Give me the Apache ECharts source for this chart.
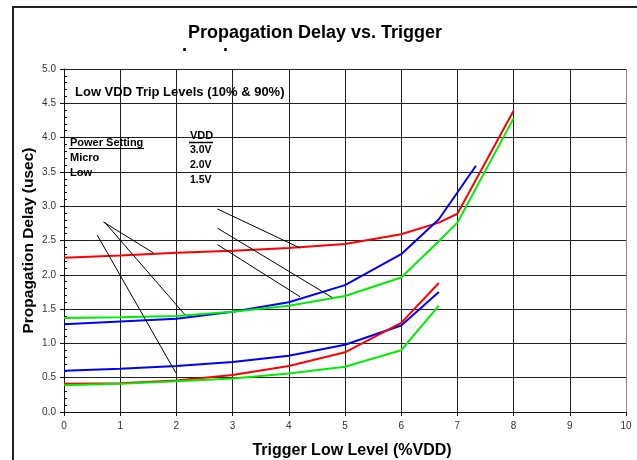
<!DOCTYPE html>
<html>
<head>
<meta charset="utf-8">
<script src="https://cdn.jsdelivr.net/npm/echarts@6/dist/echarts.min.js"></script>
<style>
html,body{margin:0;padding:0;background:#fff;}
#chart{width:637px;height:460px;}
</style>
</head>
<body>
<div id="chart"></div>
<script>
// ---- data ----
var xTicks = [0,1,2,3,4,5,6,7,8,9,10];
var yTicks = [0.0,0.5,1.0,1.5,2.0,2.5,3.0,3.5,4.0,4.5,5.0];

var xMicroRed   = [0,1,2,3,4,5,6,6.67,7,8];
var yMicroRed   = [2.25,2.28,2.32,2.35,2.39,2.45,2.59,2.76,2.89,4.39];
var xMicroBlue  = [0,1,2,3,4,5,6,6.67,7.33];
var yMicroBlue  = [1.28,1.32,1.36,1.46,1.60,1.85,2.30,2.81,3.59];
var xMicroGreen = [0,1,2,3,4,5,6,6.67,7,8];
var yMicroGreen = [1.37,1.38,1.40,1.46,1.55,1.69,1.96,2.49,2.76,4.28];

var xLow        = [0,1,2,3,4,5,6,6.67];
var yLowBlue    = [0.60,0.63,0.67,0.73,0.82,0.98,1.26,1.75];
var yLowRed     = [0.41,0.42,0.46,0.54,0.67,0.87,1.30,1.88];
var yLowGreen   = [0.39,0.41,0.45,0.49,0.56,0.66,0.90,1.55];

// annotation leader lines (data coordinates): [from, to]
var leaderMicro1 = [[0.70,2.77],[1.59,2.32]];
var leaderMicro2 = [[0.72,2.77],[2.15,1.42]];
var leaderLow    = [[0.59,2.58],[1.99,0.57]];
var leader30V    = [[2.73,2.96],[4.20,2.39]];
var leader20V    = [[2.73,2.68],[4.77,1.67]];
var leader15V    = [[2.73,2.44],[4.20,1.68]];

function pairs(xs, ys){ return xs.map(function(x,i){ return [x, ys[i]]; }); }

var chart = echarts.init(document.getElementById('chart'), null, {renderer:'canvas'});
var FONT = 'Liberation Sans, Arial, sans-serif';

function lineSeries(name, data, color){
  return {
    name: name, type: 'line', data: data, showSymbol: false, symbol: 'none',
    lineStyle: {color: color, width: 2}, silent: true, animation: false, z: 5
  };
}

var xSplitColors = xTicks.map(function(v){ return v === 10 ? '#888888' : '#222222'; });

var option = {
  animation: false,
  backgroundColor: '#ffffff',
  grid: {left: 64, top: 69, right: 11, bottom: 48, containLabel: false, outerBoundsMode: 'none'},
  xAxis: {
    type: 'value', min: 0, max: 10, interval: 1,
    axisLine: {show: true, lineStyle: {color: '#111', width: 1}},
    axisTick: {show: true, length: 4, lineStyle: {color: '#111'}},
    axisLabel: {color: '#333', fontFamily: FONT, fontSize: 10, margin: 9},
    splitLine: {show: true, lineStyle: {color: xSplitColors, width: 1}},
    name: 'Trigger Low Level (%VDD)', nameLocation: 'middle', nameGap: 31,
    nameTextStyle: {fontFamily: FONT, fontSize: 16, fontWeight: 'bold', color: '#000', padding: [0, 0, 0, 14]}
  },
  yAxis: [{
    type: 'value', min: 0, max: 5, interval: 0.5,
    axisLine: {show: true, lineStyle: {color: '#111', width: 1}},
    axisTick: {show: true, length: 4, lineStyle: {color: '#111'}},
    axisLabel: {color: '#333', fontFamily: FONT, fontSize: 10, margin: 8,
      formatter: function(v){ return v.toFixed(1); }},
    splitLine: {show: true, lineStyle: {color: '#222222', width: 1}},
    name: 'Propagation Delay (usec)', nameLocation: 'middle', nameGap: 27, nameRotate: 90,
    nameMoveOverlap: false,
    nameTextStyle: {fontFamily: FONT, fontSize: 15.5, fontWeight: 'bold', color: '#000'}
  },{
    type: 'value', min: 0, max: 5, interval: 0.5, position: 'left',
    axisLine: {show: false},
    axisTick: {show: true, inside: true, length: 4, lineStyle: {color: '#111'}},
    minorTick: {show: true, splitNumber: 5, length: 3, lineStyle: {color: '#111'}},
    axisLabel: {show: false},
    splitLine: {show: false}
  }],
  series: [
    lineSeries('Micro 3.0V', pairs(xMicroRed, yMicroRed), '#ff0000'),
    lineSeries('Micro 2.0V', pairs(xMicroBlue, yMicroBlue), '#0000ff'),
    lineSeries('Micro 1.5V', pairs(xMicroGreen, yMicroGreen), '#00ee00'),
    lineSeries('Low 2.0V', pairs(xLow, yLowBlue), '#0000ff'),
    lineSeries('Low 3.0V', pairs(xLow, yLowRed), '#ff0000'),
    lineSeries('Low 1.5V', pairs(xLow, yLowGreen), '#00ee00'),
    {
      type: 'lines', coordinateSystem: 'cartesian2d', silent: true, z: 6,
      lineStyle: {color: '#000', width: 1, opacity: 1},
      data: [leaderMicro1, leaderMicro2, leaderLow, leader30V, leader20V, leader15V].map(function(c){ return {coords: c}; })
    }
  ],
  graphic: [
    {type: 'rect', shape: {x: 13, y: 7, width: 640, height: 470}, style: {fill: 'none', stroke: '#222', lineWidth: 2}, silent: true},
    {type: 'text', x: 315, y: 24, style: {text: 'Propagation Delay vs. Trigger', font: 'bold 18px ' + FONT, fill: '#000', textAlign: 'center'}},
    {type: 'text', x: 182, y: 47, style: {text: 'Level', font: 'bold 18px ' + FONT, fill: '#000'}, z: 1},
    {type: 'rect', shape: {x: 150, y: 51, width: 120, height: 17}, style: {fill: '#fff'}, z: 2, silent: true},
    {type: 'text', x: 75, y: 86, style: {text: 'Low VDD Trip Levels (10% & 90%)', font: 'bold 13px ' + FONT, fill: '#000'}, z: 10},
    {type: 'text', x: 70, y: 137, style: {text: 'Power Setting', font: 'bold 11px ' + FONT, fill: '#000'}, z: 10},
    {type: 'line', shape: {x1: 69, y1: 148.5, x2: 144, y2: 148.5}, style: {stroke: '#000', lineWidth: 1}, z: 10},
    {type: 'text', x: 70, y: 152, style: {text: 'Micro', font: 'bold 11px ' + FONT, fill: '#000'}, z: 10},
    {type: 'text', x: 70, y: 167, style: {text: 'Low', font: 'bold 11px ' + FONT, fill: '#000'}, z: 10},
    {type: 'text', x: 190, y: 130, style: {text: 'VDD', font: 'bold 11px ' + FONT, fill: '#000'}, z: 10},
    {type: 'line', shape: {x1: 189, y1: 142.5, x2: 213, y2: 142.5}, style: {stroke: '#000', lineWidth: 1.5}, z: 10},
    {type: 'text', x: 190, y: 144.5, style: {text: '3.0V', font: 'bold 10.5px ' + FONT, fill: '#000'}, z: 10},
    {type: 'text', x: 190, y: 159.5, style: {text: '2.0V', font: 'bold 10.5px ' + FONT, fill: '#000'}, z: 10},
    {type: 'text', x: 190, y: 174.5, style: {text: '1.5V', font: 'bold 10.5px ' + FONT, fill: '#000'}, z: 10}
  ]
};
chart.setOption(option);
</script>
</body>
</html>
